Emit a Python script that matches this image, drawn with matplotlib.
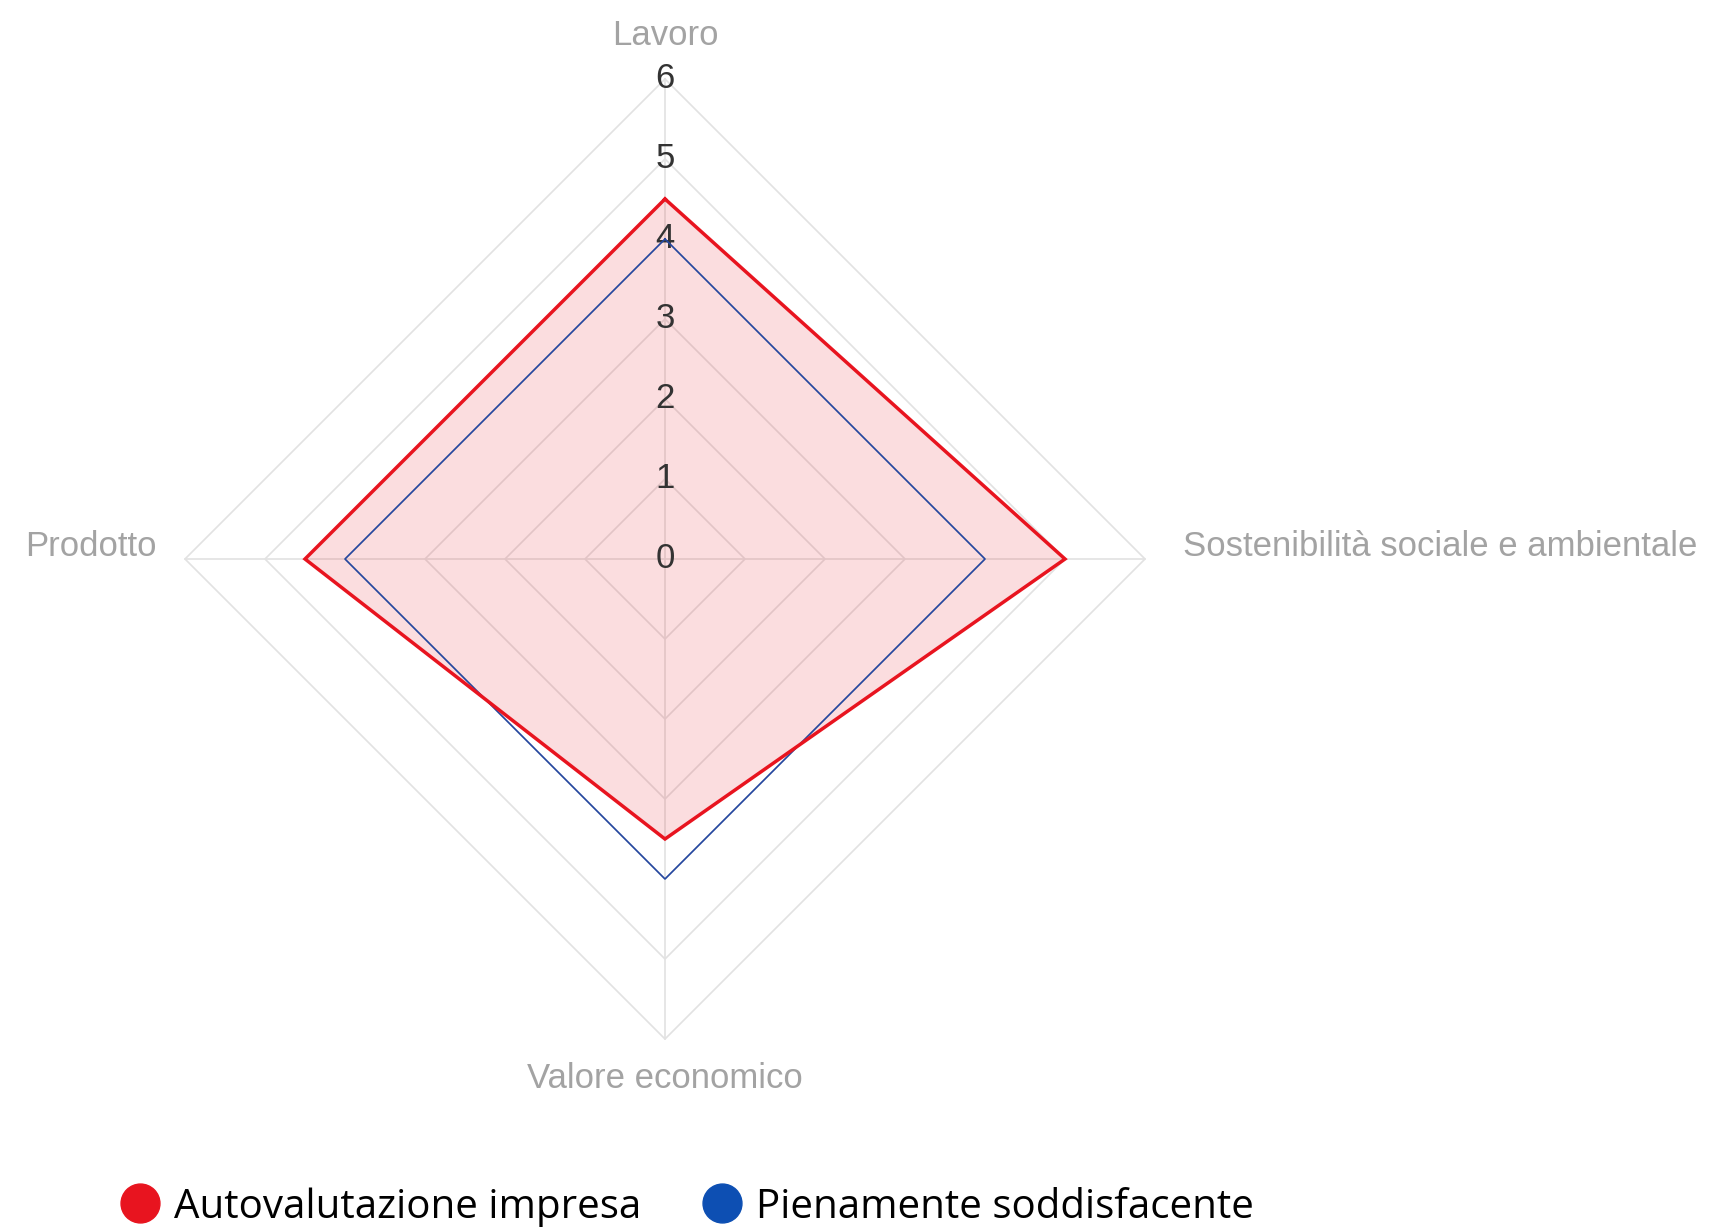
import numpy as np
import matplotlib.pyplot as plt
from matplotlib.lines import Line2D

categories = ['Lavoro', 'Sostenibilità sociale e ambientale', 'Valore economico', 'Prodotto']
autovalutazione = [4.5, 5.0, 3.5, 4.5]
pienamente = [4.0, 4.0, 4.0, 4.0]
ticks = [0, 1, 2, 3, 4, 5, 6]
series_names = ['Autovalutazione impresa', 'Pienamente soddisfacente']

RED = '#e8141f'
BLUE = '#2447a0'
BLUE_DOT = '#0d4fb3'
GRID = '#e2e2e2'

# axes clockwise from the top
angles = np.pi / 2 - np.arange(len(categories)) * 2 * np.pi / len(categories)


def to_xy(values):
    v = np.asarray(values, dtype=float)
    x = v * np.cos(angles)
    y = v * np.sin(angles)
    return np.append(x, x[0]), np.append(y, y[0])


fig = plt.figure(figsize=(17.18, 12.27), dpi=100)
ax = fig.add_axes([0, 0, 1, 1])
ax.set_xlim(-665 / 80, (1718 - 665) / 80)
ax.set_ylim(-668 / 80, (1227 - 668) / 80)
ax.axis('off')

# polygon grid + spokes
for t in ticks[1:]:
    gx, gy = to_xy([t] * len(categories))
    ax.plot(gx, gy, color=GRID, lw=1.2, zorder=1)
for a in angles:
    ax.plot([0, ticks[-1] * np.cos(a)], [0, ticks[-1] * np.sin(a)], color=GRID, lw=1.2, zorder=1)

# series
rx, ry = to_xy(autovalutazione)
ax.fill(rx, ry, color=RED, alpha=0.14, lw=0, zorder=2)
bx, by = to_xy(pienamente)
ax.plot(bx, by, color=BLUE, lw=1.2, zorder=4)
ax.plot(rx, ry, color=RED, lw=2.5, zorder=5, solid_joinstyle='miter')

# radial tick labels on the top spoke
for t in ticks:
    ax.text(0, t, str(t), ha='center', va='center', fontsize=25,
            family='Liberation Sans', color='#333333', zorder=3)

# category labels
lab_r = [6.54, 6.47, 6.5, 6.36]
for name, a, r in zip(categories, angles, lab_r):
    c, s = np.cos(a), np.sin(a)
    if abs(c) < 1e-6:
        ha = 'center'
        x, y = 0, r * np.sign(s)
    else:
        ha = 'left' if c > 0 else 'right'
        x, y = r * np.sign(c), 0.15
    ax.text(x, y, name, ha=ha, va='center', fontsize=25,
            family='Liberation Sans', color='#a3a3a3')

handles = [
    Line2D([], [], ls='none', marker='o', markersize=28, color=RED, label=series_names[0]),
    Line2D([], [], ls='none', marker='o', markersize=28, color=BLUE_DOT, label=series_names[1]),
]
fig.legend(handles=handles, loc='lower center', bbox_to_anchor=(0.4, -0.03), ncol=2,
           frameon=False, handletextpad=0.35, columnspacing=1.5, handlelength=1.0,
           prop={'family': 'Open Sans', 'size': 29})

fig.savefig('out.png', dpi=100)
